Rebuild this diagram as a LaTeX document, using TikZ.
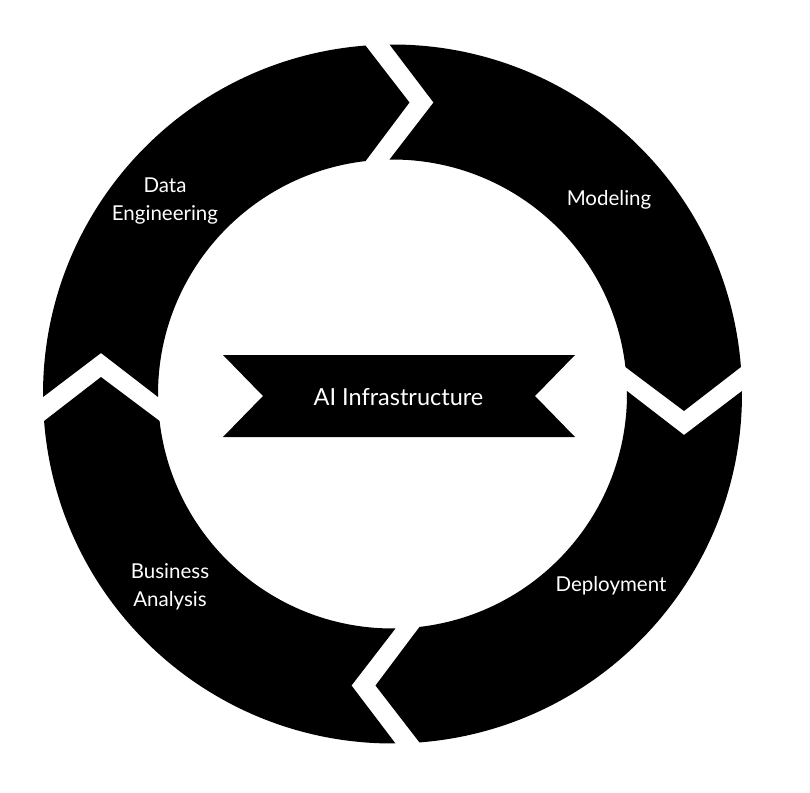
\documentclass[tikz,border=0pt]{standalone}
\usepackage{fontspec}
\setmainfont{Lato}
\begin{document}
\begin{tikzpicture}[x=1pt,y=1pt,
  piece/.style={fill=black},
  lbl/.style={text=white,font=\fontsize{20.5}{28}\selectfont,align=center,inner sep=0pt},
  bigl/.style={text=white,font=\fontsize{23.5}{28}\selectfont,inner sep=0pt}]
\useasboundingbox[fill=white] (-392.5,-398) rectangle (417.5,394);
% one ring segment (Modeling), rotated for the others
\foreach \rot in {0,-90,-180,-270}{
  \begin{scope}[rotate=\rot]
    \fill[piece] (90.49:349.5pt) arc[start angle=90.49, end angle=4.43, radius=349.5pt]
      -- (291.5,-17) -- (6.61:234.5pt)
      arc[start angle=6.61, end angle=90.73, radius=234.5pt]
      -- (41,291.5) -- cycle;
  \end{scope}
}
% central banner
\fill[piece] (-169.5,39) -- (182.5,39) -- (142.5,-2) -- (182.5,-43)
  -- (-169.5,-43) -- (-129.5,-2) -- cycle;
\node[bigl,anchor=base] (ai) at (6,-11) {AI Infrastructure};
\node[lbl] (de) at (-227.5,193) {Data\\Engineering};
\node[lbl,anchor=base] (mo) at (216.5,188) {Modeling};
\node[lbl,anchor=base] (dp) at (218.5,-197) {Deployment};
\node[lbl] (ba) at (-222.5,-193) {Business\\Analysis};
\end{tikzpicture}
\end{document}
